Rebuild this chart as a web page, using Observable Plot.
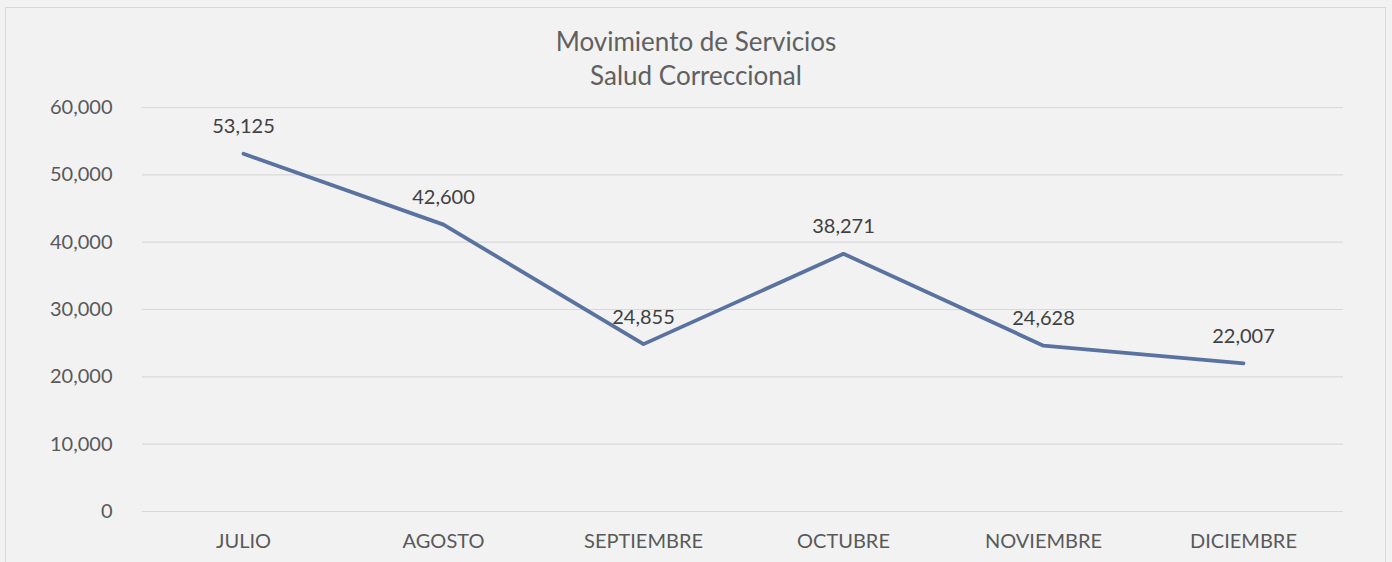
<!DOCTYPE html>
<html>
<head>
<meta charset="utf-8">
<script src="https://cdn.jsdelivr.net/npm/d3@7"></script>
<script src="https://cdn.jsdelivr.net/npm/@observablehq/plot@0.6"></script>
<style>
  html, body { margin: 0; padding: 0; background: #f2f2f2; overflow: hidden; }
  #wrap { position: relative; width: 1392px; height: 562px; background: #f2f2f2; }
  #frame { position: absolute; left: 5px; top: 7px; width: 1381px; height: 600px; border: 1px solid #d9d9d9; box-sizing: border-box; }
  #title { position: absolute; left: 0; width: 1392px; top: 24px; text-align: center; font-family: Lato, "Open Sans", sans-serif; font-size: 26px; font-weight: 400; line-height: 34px; color: #606060; }
  #chart { position: absolute; left: 0; top: 0; }
</style>
</head>
<body>
<div id="wrap">
  <div id="frame"></div>
  <div id="chart"></div>
  <div id="title">Movimiento de Servicios<br>Salud Correccional</div>
</div>
<script>
const months = ["JULIO", "AGOSTO", "SEPTIEMBRE", "OCTUBRE", "NOVIEMBRE", "DICIEMBRE"];
const values = [53125, 42600, 24855, 38271, 24628, 22007];
const yTicks = [0, 10000, 20000, 30000, 40000, 50000, 60000];

const data = months.map((m, i) => ({month: m, value: values[i]}));
const fmt = d3.format(",");

const chart = Plot.plot({
  width: 1392,
  height: 562,
  marginLeft: 142,
  marginRight: 49,
  marginTop: 107,
  marginBottom: 51,
  style: {background: "transparent", fontFamily: "Lato, 'Open Sans', sans-serif", fontSize: "20px", color: "#595959"},
  x: {type: "point", domain: months, padding: 0.5, label: null, tickSize: 0, tickPadding: 22},
  y: {domain: [0, 60000], ticks: yTicks, tickFormat: fmt, label: null, tickSize: 0, tickPadding: 30},
  marks: [
    Plot.ruleY(yTicks, {stroke: "#d9d9d9", strokeWidth: 1.2}),
    Plot.line(data, {x: "month", y: "value", stroke: "#5a72a0", strokeWidth: 3.8, strokeLinecap: "round", strokeLinejoin: "round"}),
    Plot.text(data, {x: "month", y: "value", text: d => fmt(d.value), dy: -27, fill: "#404040", fontSize: 20})
  ]
});
document.getElementById("chart").appendChild(chart);
</script>
</body>
</html>
